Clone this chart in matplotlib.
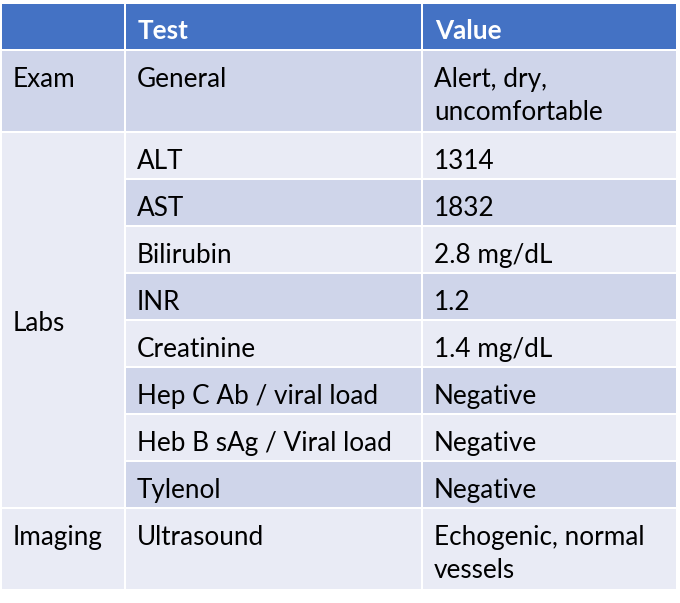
import matplotlib
matplotlib.use('Agg')
import matplotlib.pyplot as plt
from matplotlib.patches import Rectangle

plt.rcParams['font.family'] = ['Lato', 'DejaVu Sans']

header = ['', 'Test', 'Value']
groups = ['Exam', 'Labs', 'Imaging']
group_rows = [1, 8, 1]
tests = ['General', 'ALT', 'AST', 'Bilirubin', 'INR', 'Creatinine',
         'Hep C Ab / viral load', 'Heb B sAg / Viral load', 'Tylenol', 'Ultrasound']
values = ['Alert, dry,\nuncomfortable', '1314', '1832', '2.8 mg/dL', '1.2', '1.4 mg/dL',
          'Negative', 'Negative', 'Negative', 'Echogenic, normal\nvessels']

# layout in pixels
col_x = [2, 125, 422, 676]
top = 4
header_h = 45
row_h = [80, 45, 45, 45, 45, 45, 45, 45, 45, 80]
gap = 2
line_step = 33

HEAD = '#4472C4'
DARK = '#CFD5EA'
LIGHT = '#E9EBF5'
FS = 18.8

fig = plt.figure(figsize=(6.8, 6.03), dpi=100)
ax = fig.add_axes([0, 0, 1, 1])
ax.set_xlim(0, 680)
ax.set_ylim(603, 0)
ax.axis('off')


def cell(x0, x1, y0, y1, color):
    ax.add_patch(Rectangle((x0, y0), x1 - x0, y1 - y0, facecolor=color, edgecolor='none'))


def put(x, y, txt, **kw):
    for k, line in enumerate(txt.split('\n')):
        ax.text(x, y + k * line_step, line, fontsize=FS, va='center_baseline', ha='left', **kw)


# header
for j, h in enumerate(header):
    cell(col_x[j] + (gap / 2 if j else 0), col_x[j + 1] - (gap / 2 if j < 2 else 0),
         top, top + header_h, HEAD)
    if h:
        put(col_x[j] + 13, top + 25, h, color='white', fontweight='bold')

# row positions
ys = []
y = top + header_h + gap
for h in row_h:
    ys.append((y, y + h))
    y += h + gap

# body rows (test / value columns)
for i, (t, v) in enumerate(zip(tests, values)):
    y0, y1 = ys[i]
    color = DARK if i % 2 == 0 else LIGHT
    if i == len(tests) - 1:
        color = LIGHT
    for j, txt in ((1, t), (2, v)):
        cell(col_x[j] + gap / 2, col_x[j + 1] - (gap / 2 if j < 2 else 0), y0, y1, color)
        put(col_x[j] + 12, y0 + 26, txt, color='black')

# group column
r = 0
for g, n in zip(groups, group_rows):
    y0 = ys[r][0]
    y1 = ys[r + n - 1][1]
    color = DARK if g == 'Exam' else LIGHT
    cell(col_x[0], col_x[1] - gap / 2, y0, y1, color)
    ty = y0 + 26 if n == 1 else (y0 + y1) / 2 + 1
    put(col_x[0] + 11, ty, g, color='black')
    r += n

fig.savefig('out.png', dpi=100, facecolor='white')
